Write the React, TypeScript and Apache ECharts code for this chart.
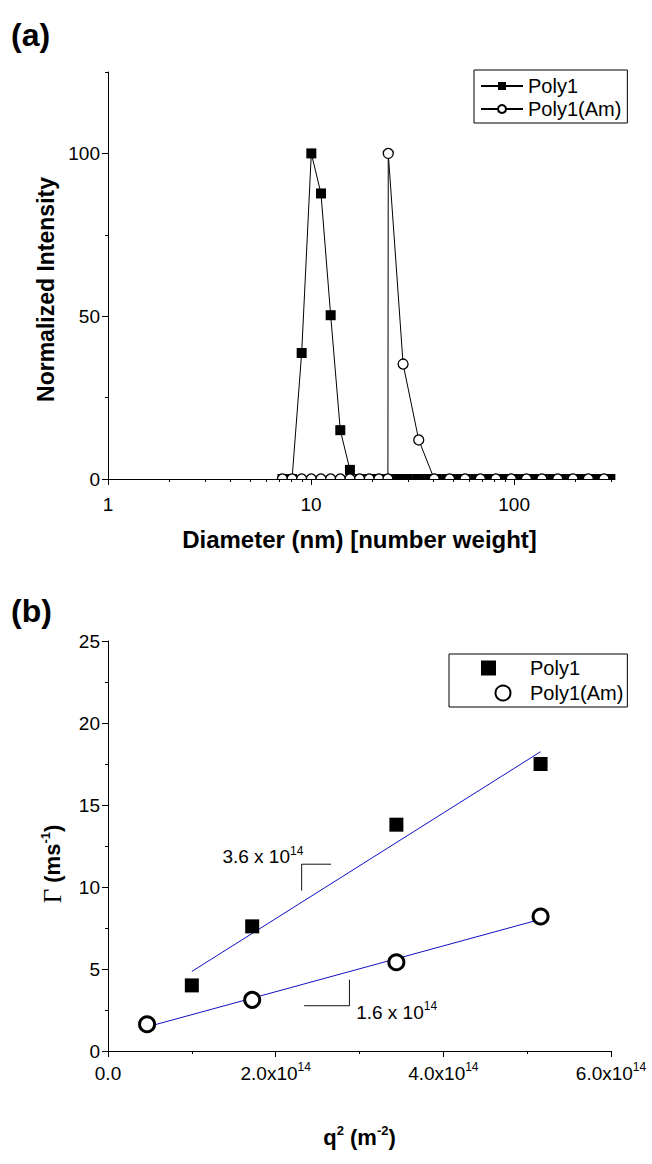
import React, { useEffect, useRef } from 'react';
import * as echarts from 'echarts';

const SANS = '"Liberation Sans", Arial, Helvetica, sans-serif';
const SERIF = '"Liberation Serif", "Times New Roman", serif';

// ---------- Panel (a): size distribution ----------
const poly1Diameter = [
  7.23, 8.06, 8.99, 10.03, 11.19, 12.49, 13.93, 15.54, 17.34, 19.35, 21.58, 24.07,
  26.85, 29.96, 33.42, 37.28, 41.59, 46.4, 51.8, 57.7, 64.4, 71.9, 80.2, 89.4,
  99.8, 111.3, 124.2, 138.5, 154.5, 172.4, 192.3, 214.5, 239.3, 267.0, 297.9,
];
const poly1Intensity = [
  0, 0, 38.7, 100, 87.7, 50.3, 15.0, 2.8, 0, 0, 0, 0,
  0, 0, 0, 0, 0, 0, 0, 0, 0, 0, 0, 0,
  0, 0, 0, 0, 0, 0, 0, 0, 0, 0, 0,
];
const poly1AmDiameter = [
  7.23, 8.06, 8.99, 10.03, 11.19, 12.49, 13.93, 15.54, 17.34, 19.35, 21.58, 23.9,
  24.0, 28.4, 33.9, 40.4, 48.1, 57.3, 68.2, 81.3, 96.8, 115, 137, 164, 195, 232, 277,
];
const poly1AmIntensity = [
  0, 0, 0, 0, 0, 0, 0, 0, 0, 0, 0, 0,
  100, 35.3, 12.0, 0, 0, 0, 0, 0, 0, 0, 0, 0, 0, 0, 0,
];
const diameterMajorTicks = [1, 10, 100];
const diameterMinorTicks = [2, 3, 4, 5, 6, 7, 8, 9, 20, 30, 40, 50, 60, 70, 80, 90, 200, 300];
const intensityMajorTicks = [0, 50, 100];
const intensityMinorTicks = [25, 75, 125];

// ---------- Panel (b): decay rate vs q^2 ----------
const q2Poly1 = [1.0e14, 1.72e14, 3.44e14, 5.16e14];
const gammaPoly1 = [4.0, 7.6, 13.8, 17.5];
const q2Poly1Am = [0.466e14, 1.72e14, 3.44e14, 5.16e14];
const gammaPoly1Am = [1.63, 3.12, 5.41, 8.2];
const fitPoly1Q2 = [1.0e14, 5.16e14];
const fitPoly1Gamma = [4.85, 18.25];
const fitPoly1AmQ2 = [0.466e14, 5.16e14];
const fitPoly1AmGamma = [1.47, 8.03];
const slopeTexts = ['3.6 x 10', '1.6 x 10'];
const slopeExponent = '14';
const slopeTextQ2 = [2.33e14, 2.96e14];
const slopeTextGamma = [11.84, 2.35];
const bracketPoly1Q2 = [2.31e14, 2.31e14, 2.66e14];
const bracketPoly1Gamma = [9.78, 11.39, 11.39];
const bracketPoly1AmQ2 = [2.34e14, 2.88e14, 2.88e14];
const bracketPoly1AmGamma = [2.76, 2.76, 4.35];

const zip = (xs: number[], ys: number[]) => xs.map((x, i) => [x, ys[i]]);

// ---------- layout ----------
const W = 652;
const H = 1164;
const GRID_A = { left: 108, top: 72, width: 503, height: 407 };
const GRID_B = { left: 108, top: 641, width: 503, height: 410 };

const black = '#000';
const tickLabel = { color: black, fontSize: 19, fontFamily: SANS };
const supRich = {
  m: { fontSize: 19, fontFamily: SANS, color: black, lineHeight: 24 },
  s: { fontSize: 12, fontFamily: SANS, color: black, lineHeight: 13, verticalAlign: 'top' as const },
};
const titleRich = {
  b: { fontSize: 22, fontWeight: 'bold' as const, fontFamily: SANS, color: black, lineHeight: 27 },
  s: { fontSize: 13, fontWeight: 'bold' as const, fontFamily: SANS, color: black, lineHeight: 14, verticalAlign: 'top' as const },
  g: { fontSize: 25, fontFamily: SERIF, color: black, lineHeight: 27 },
};
const axisLine = { show: true, onZero: false, lineStyle: { color: black, width: 1 } };

function buildOption(): any {
  return {
    animation: false,
    backgroundColor: '#fff',
    textStyle: { fontFamily: SANS },
    grid: [
      { ...GRID_A, containLabel: false },
      { ...GRID_B, containLabel: false },
    ],
    legend: [
      {
        data: ['Poly1', 'Poly1(Am)'],
        orient: 'vertical',
        left: 474,
        top: 70,
        padding: [6, 6, 4, 6],
        itemGap: 3,
        itemWidth: 42,
        itemHeight: 10,
        borderColor: black,
        borderWidth: 1,
        backgroundColor: '#fff',
        textStyle: { color: black, fontSize: 20, fontFamily: SANS },
        selectedMode: false,
      },
      {
        data: ['Poly1 [b]', 'Poly1(Am) [b]'],
        formatter: (name: string) => name.replace(' [b]', ''),
        orient: 'vertical',
        left: 449,
        top: 654,
        padding: [4, 4, 4, 32],
        itemGap: 5,
        itemWidth: 44,
        itemHeight: 15,
        borderColor: black,
        borderWidth: 1,
        backgroundColor: '#fff',
        textStyle: { color: black, fontSize: 20, fontFamily: SANS },
        selectedMode: false,
      },
    ],
    xAxis: [
      {
        gridIndex: 0,
        type: 'log',
        logBase: 10,
        min: 1,
        max: 300,
        position: 'bottom',
        z: 10,
        axisLine,
        axisTick: { show: true, length: 6, customValues: diameterMajorTicks, lineStyle: { color: black } },
        axisLabel: { customValues: diameterMajorTicks, margin: 16, ...tickLabel },
        splitLine: { show: false },
        name: 'Diameter (nm) [number weight]',
        nameLocation: 'middle',
        nameGap: 48,
        nameTextStyle: { color: black, fontSize: 24, fontWeight: 'bold', fontFamily: SANS },
      },
      {
        gridIndex: 0,
        type: 'log',
        logBase: 10,
        min: 1,
        max: 300,
        position: 'bottom',
        z: 10,
        axisLine: { show: false },
        axisTick: { show: true, length: 3, customValues: diameterMinorTicks, lineStyle: { color: black } },
        axisLabel: { show: false },
        splitLine: { show: false },
      },
      {
        gridIndex: 1,
        type: 'value',
        min: 0,
        max: 6e14,
        interval: 2e14,
        position: 'bottom',
        axisLine,
        axisTick: { show: true, length: 6, lineStyle: { color: black } },
        minorTick: { show: true, splitNumber: 2, length: 3, lineStyle: { color: black } },
        axisLabel: {
          margin: 10,
          formatter: (v: number) =>
            v === 0 ? '{m|0.0}' : `{m|${(v / 1e14).toFixed(1)}x10}{s|14}`,
          rich: supRich,
        },
        splitLine: { show: false },
        minorSplitLine: { show: false },
        name: '{b|q}{s|2}{b| (m}{s|-2}{b|)}',
        nameLocation: 'middle',
        nameGap: 73,
        nameTextStyle: { rich: titleRich },
      },
    ],
    yAxis: [
      {
        gridIndex: 0,
        type: 'value',
        min: 0,
        max: 125,
        position: 'left',
        z: 10,
        axisLine,
        axisTick: { show: true, length: 6, customValues: intensityMajorTicks, lineStyle: { color: black } },
        axisLabel: { customValues: intensityMajorTicks, margin: 8, ...tickLabel },
        splitLine: { show: false },
        name: 'Normalized Intensity',
        nameLocation: 'middle',
        nameGap: 42,
        nameTextStyle: {
          color: black,
          fontSize: 23,
          fontWeight: 'bold',
          fontFamily: SANS,
          padding: [0, 28, 0, 0],
        },
      },
      {
        gridIndex: 0,
        type: 'value',
        min: 0,
        max: 125,
        position: 'left',
        z: 10,
        axisLine: { show: false },
        axisTick: { show: true, length: 3, customValues: intensityMinorTicks, lineStyle: { color: black } },
        axisLabel: { show: false },
        splitLine: { show: false },
      },
      {
        gridIndex: 1,
        type: 'value',
        min: 0,
        max: 25,
        interval: 5,
        position: 'left',
        axisLine,
        axisTick: { show: true, length: 6, lineStyle: { color: black } },
        minorTick: { show: true, splitNumber: 2, length: 3, lineStyle: { color: black } },
        axisLabel: { margin: 8, ...tickLabel },
        splitLine: { show: false },
        minorSplitLine: { show: false },
        name: '{g|Γ}{b| (ms}{s|-1}{b|)}',
        nameLocation: 'middle',
        nameGap: 42,
        nameTextStyle: { rich: titleRich, padding: [0, 36, 0, 0] },
      },
    ],
    graphic: [
      {
        type: 'rect',
        z: 5,
        silent: true,
        shape: {
          x: GRID_A.left + 1,
          y: GRID_A.top + GRID_A.height + 1,
          width: GRID_A.width + 10,
          height: 9,
        },
        style: { fill: '#fff' },
      },
      {
        type: 'text',
        left: 11,
        top: 19,
        style: { text: '(a)', font: `bold 32px ${SANS}`, fill: black },
      },
      {
        type: 'text',
        left: 11,
        top: 595,
        style: { text: '(b)', font: `bold 32px ${SANS}`, fill: black },
      },
    ],
    series: [
      {
        name: 'Poly1',
        type: 'line',
        xAxisIndex: 0,
        yAxisIndex: 0,
        data: zip(poly1Diameter, poly1Intensity),
        symbol: 'square',
        symbolSize: 10,
        clip: false,
        z: 2,
        lineStyle: { color: black, width: 1 },
        itemStyle: { color: black, opacity: 1 },
      },
      {
        name: 'Poly1(Am)',
        type: 'line',
        xAxisIndex: 0,
        yAxisIndex: 0,
        data: zip(poly1AmDiameter, poly1AmIntensity),
        symbol: 'circle',
        symbolSize: 10,
        clip: false,
        z: 3,
        lineStyle: { color: black, width: 1 },
        itemStyle: { color: '#fff', borderColor: black, borderWidth: 1.3, opacity: 1 },
      },
      {
        name: 'fit Poly1',
        type: 'line',
        xAxisIndex: 2,
        yAxisIndex: 2,
        data: zip(fitPoly1Q2, fitPoly1Gamma),
        symbol: 'none',
        lineStyle: { color: '#1010c8', width: 1 },
        z: 1,
      },
      {
        name: 'fit Poly1(Am)',
        type: 'line',
        xAxisIndex: 2,
        yAxisIndex: 2,
        data: zip(fitPoly1AmQ2, fitPoly1AmGamma),
        symbol: 'none',
        lineStyle: { color: '#1010c8', width: 1 },
        z: 1,
      },
      {
        name: 'Poly1 [b]',
        type: 'scatter',
        xAxisIndex: 2,
        yAxisIndex: 2,
        data: zip(q2Poly1, gammaPoly1),
        symbol: 'square',
        symbolSize: 14,
        itemStyle: { color: black, opacity: 1 },
        z: 3,
      },
      {
        name: 'Poly1(Am) [b]',
        type: 'scatter',
        xAxisIndex: 2,
        yAxisIndex: 2,
        data: zip(q2Poly1Am, gammaPoly1Am),
        symbol: 'circle',
        symbolSize: 15,
        itemStyle: { color: '#fff', borderColor: black, borderWidth: 3, opacity: 1 },
        z: 3,
      },
      {
        name: 'slope bracket Poly1',
        type: 'line',
        xAxisIndex: 2,
        yAxisIndex: 2,
        data: zip(bracketPoly1Q2, bracketPoly1Gamma),
        symbol: 'none',
        lineStyle: { color: '#111', width: 1 },
      },
      {
        name: 'slope bracket Poly1(Am)',
        type: 'line',
        xAxisIndex: 2,
        yAxisIndex: 2,
        data: zip(bracketPoly1AmQ2, bracketPoly1AmGamma),
        symbol: 'none',
        lineStyle: { color: '#111', width: 1 },
      },
      {
        name: 'slope labels',
        type: 'scatter',
        xAxisIndex: 2,
        yAxisIndex: 2,
        symbolSize: 0,
        silent: true,
        itemStyle: { opacity: 1 },
        data: slopeTexts.map((t, i) => ({
          value: [slopeTextQ2[i], slopeTextGamma[i]],
          label: {
            show: true,
            opacity: 1,
            position: i === 0 ? 'left' : 'right',
            distance: 0,
            formatter: `{m|${t}}{s|${slopeExponent}}`,
            rich: supRich,
          },
        })),
      },
    ],
  };
}

export default function App() {
  const ref = useRef<HTMLDivElement>(null);
  useEffect(() => {
    document.body.style.margin = '0';
    if (!ref.current) return;
    const chart = echarts.init(ref.current, null, { renderer: 'svg' });
    chart.setOption(buildOption());
    return () => chart.dispose();
  }, []);
  return <div ref={ref} style={{ width: W, height: H }} />;
}
